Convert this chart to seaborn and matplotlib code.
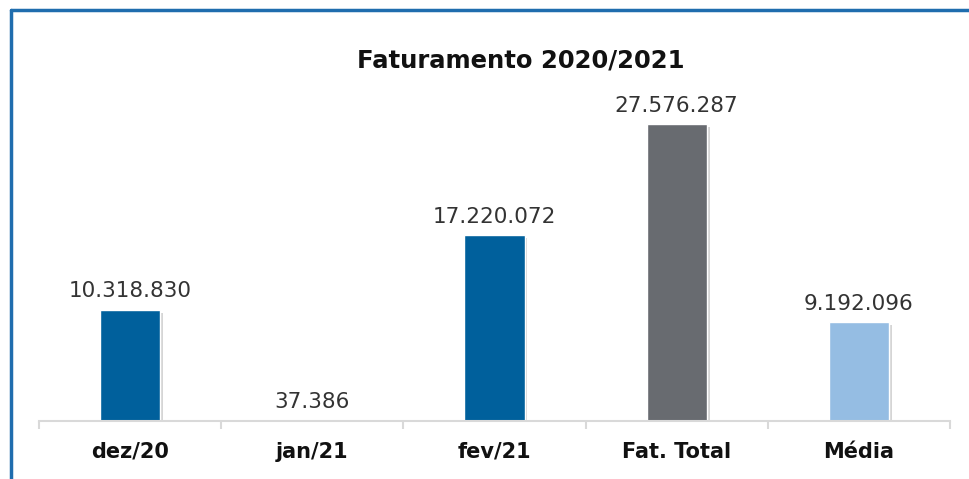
import matplotlib
matplotlib.use("Agg")
import matplotlib.pyplot as plt
import matplotlib.patheffects as pe
from matplotlib.lines import Line2D
import seaborn as sns
import pandas as pd

# Dados
categorias = ["dez/20", "jan/21", "fev/21", "Fat. Total", "Média"]
valores = [10318830, 37386, 17220072, 27576287, 9192096]
cores = ["#00609C", "#1A78C2", "#00609C", "#686B70", "#95BDE3"]
titulo = "Faturamento 2020/2021"

df = pd.DataFrame({"Categoria": categorias, "Valor": valores})

sns.set_style("white")
plt.rcParams["font.family"] = ["DejaVu Sans"]

fig = plt.figure(figsize=(9.7, 4.79), dpi=100)
ax = fig.add_axes([39 / 970, 58 / 479, (950 - 39) / 970, (421 - 60) / 479])

sns.barplot(data=df, x="Categoria", y="Valor", hue="Categoria",
            palette=cores, width=0.33, legend=False, ax=ax, saturation=1)

# sombra leve nas barras
for p in ax.patches:
    p.set_path_effects([pe.SimplePatchShadow(offset=(2, -2), shadow_rgbFace="#888888", alpha=0.35),
                        pe.Normal()])

ax.set_ylim(0, 33.5e6)
ax.set_xlim(-0.5, len(categorias) - 0.5)

# rótulos de valor
rotulos = [f"{v:,}".replace(",", ".") for v in valores]
for i, v in enumerate(valores):
    ax.annotate(rotulos[i], (i, v), xytext=(0, 6), textcoords="offset points",
                ha="center", va="bottom", fontsize=15.5, color="#333333")

# eixo
for s in ["top", "right", "left"]:
    ax.spines[s].set_visible(False)
ax.spines["bottom"].set_color("#D9D9D9")
ax.spines["bottom"].set_linewidth(1.5)
ax.set_yticks([])
ax.set_xlabel("")
ax.set_ylabel("")
ax.set_xticks(range(len(categorias)))
ax.set_xticklabels(categorias, fontsize=15, fontweight="bold", color="#111111")
ax.set_xticks([i - 0.5 for i in range(len(categorias) + 1)], minor=True)
ax.tick_params(axis="x", which="major", bottom=True, length=0, pad=15)
ax.tick_params(axis="x", which="minor", bottom=True, length=6, width=1.5,
               color="#D9D9D9", direction="out")

fig.text(521 / 970, 1 - 60 / 479, titulo, ha="center", va="center",
         fontsize=17.5, fontweight="bold", color="#111111")

# moldura
fig.add_artist(Line2D([11 / 970, 11 / 970], [0, 1 - 10 / 479], color="#1F6DAE", lw=2.5))
fig.add_artist(Line2D([11 / 970, 1], [1 - 10 / 479, 1 - 10 / 479], color="#1F6DAE", lw=2.5))

fig.savefig("out.png", dpi=100)
